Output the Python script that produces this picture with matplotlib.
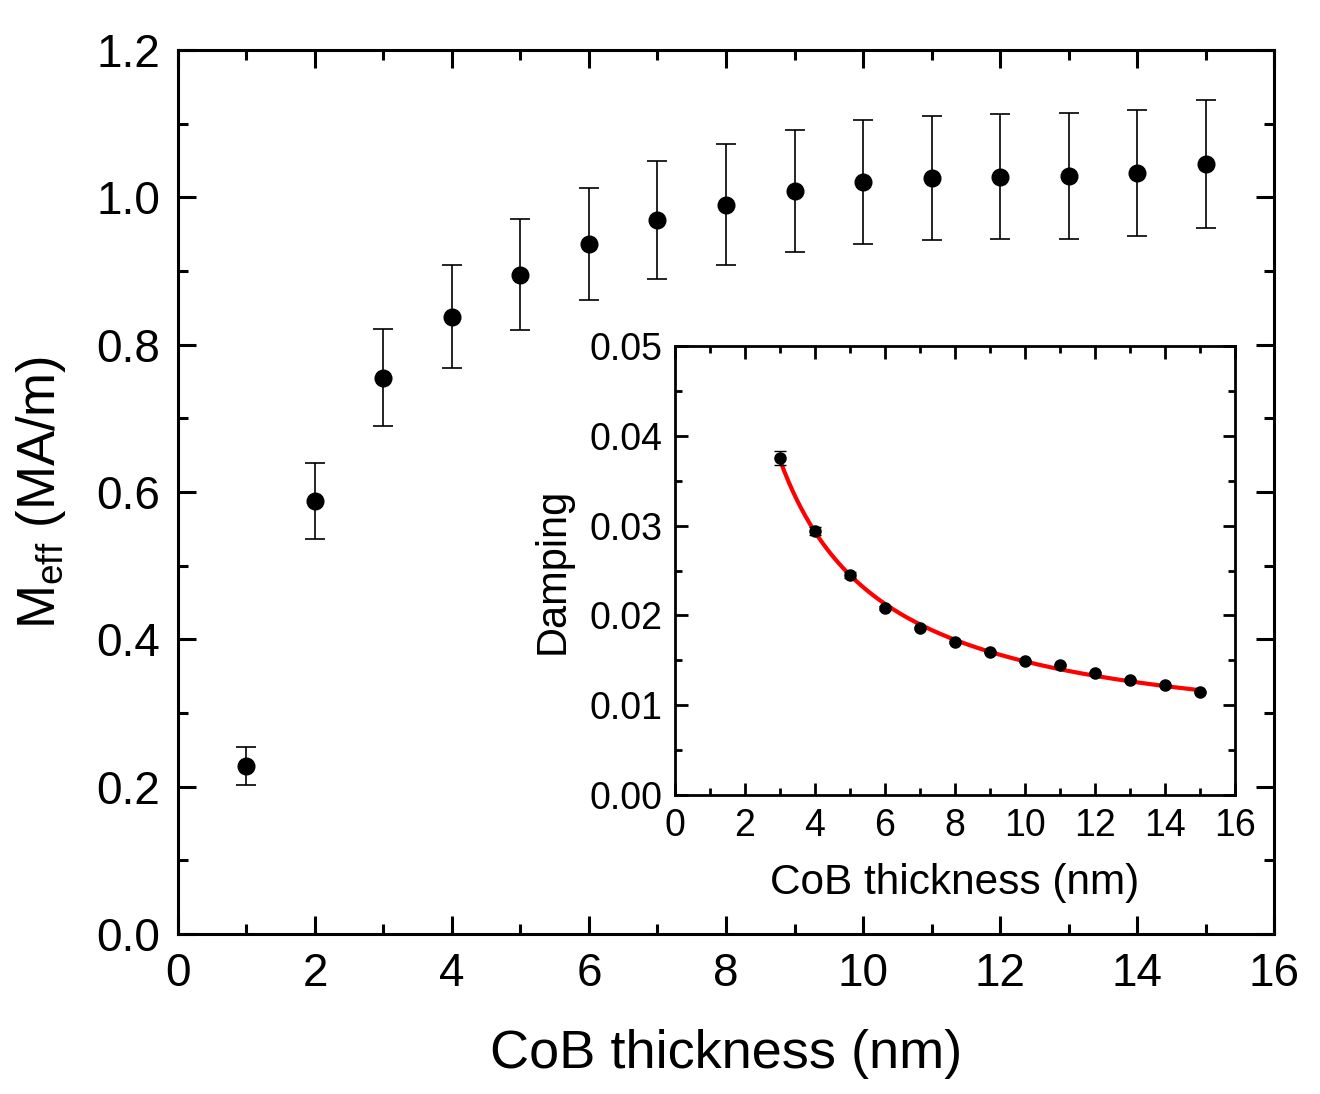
import matplotlib
matplotlib.use('Agg')
import matplotlib.pyplot as plt
import numpy as np
from matplotlib.ticker import MultipleLocator

plt.rcParams['font.family'] = ['Liberation Sans', 'DejaVu Sans']
plt.rcParams['mathtext.default'] = 'regular'

# main panel: effective magnetization vs CoB thickness
thickness = np.array([1, 2, 3, 4, 5, 6, 7, 8, 9, 10, 11, 12, 13, 14, 15])
meff = np.array([0.228, 0.588, 0.755, 0.838, 0.895, 0.937, 0.969, 0.990,
                 1.009, 1.021, 1.026, 1.028, 1.029, 1.033, 1.045])
meff_err = np.array([0.026, 0.052, 0.066, 0.070, 0.075, 0.076, 0.080, 0.082,
                     0.083, 0.084, 0.084, 0.085, 0.085, 0.086, 0.087])

# inset: damping vs CoB thickness
t_damp = np.array([3, 4, 5, 6, 7, 8, 9, 10, 11, 12, 13, 14, 15])
damping = np.array([0.0375, 0.0294, 0.0245, 0.0208, 0.0186, 0.0170, 0.0159,
                    0.0149, 0.0145, 0.0136, 0.0128, 0.0122, 0.0115])
damping_err = np.array([0.0008, 0.0004, 0.0003, 0.0002, 0.0001, 0.0001, 0.0001,
                        0.0001, 0.0001, 0.0001, 0.0001, 0.0001, 0.0001])


def style_axes(ax, lw, major, minor, size, pad):
    for s in ax.spines.values():
        s.set_linewidth(lw)
    ax.tick_params(which='both', direction='in', top=True, right=True, width=lw)
    ax.tick_params(which='major', length=major, labelsize=size, pad=pad)
    ax.tick_params(which='minor', length=minor)


fig = plt.figure(figsize=(13.2, 10.94), dpi=100)
ax = fig.add_axes([0.1348, 0.1463, 0.8304, 0.808])
ax.errorbar(thickness, meff, yerr=meff_err, fmt='o', color='black',
            markersize=12, elinewidth=1.2, capsize=7, capthick=1.2)
ax.set_xlim(0, 16)
ax.set_ylim(0, 1.2)
ax.xaxis.set_major_locator(MultipleLocator(2))
ax.xaxis.set_minor_locator(MultipleLocator(1))
ax.yaxis.set_major_locator(MultipleLocator(0.2))
ax.yaxis.set_minor_locator(MultipleLocator(0.1))
ax.yaxis.set_major_formatter(matplotlib.ticker.FormatStrFormatter('%.1f'))
style_axes(ax, 2.2, 13, 7, 33, 13)
ax.set_xlabel('CoB thickness (nm)', fontsize=39, labelpad=24)
ax.set_ylabel('M$_{eff}$ (MA/m)', fontsize=38, labelpad=20)

# inset
axi = fig.add_axes([0.5114, 0.2733, 0.4242, 0.4104])
fit = np.polyfit(1 / t_damp, damping, 1)
tt = np.linspace(t_damp.min(), t_damp.max(), 200)
axi.plot(tt, np.polyval(fit, 1 / tt), color='red', lw=3, zorder=1)
axi.errorbar(t_damp, damping, yerr=damping_err, fmt='o', color='black',
             markersize=8, elinewidth=1, capsize=4, capthick=1, zorder=2)
axi.set_xlim(0, 16)
axi.set_ylim(0, 0.05)
axi.xaxis.set_major_locator(MultipleLocator(2))
axi.xaxis.set_minor_locator(MultipleLocator(1))
axi.yaxis.set_major_locator(MultipleLocator(0.01))
axi.yaxis.set_minor_locator(MultipleLocator(0.005))
axi.yaxis.set_major_formatter(matplotlib.ticker.FormatStrFormatter('%.2f'))
style_axes(axi, 2, 9, 5, 27, 9)
axi.set_xlabel('CoB thickness (nm)', fontsize=30.5, labelpad=14)
axi.set_ylabel('Damping', fontsize=30, labelpad=12)

fig.savefig('out.png', dpi=100)
